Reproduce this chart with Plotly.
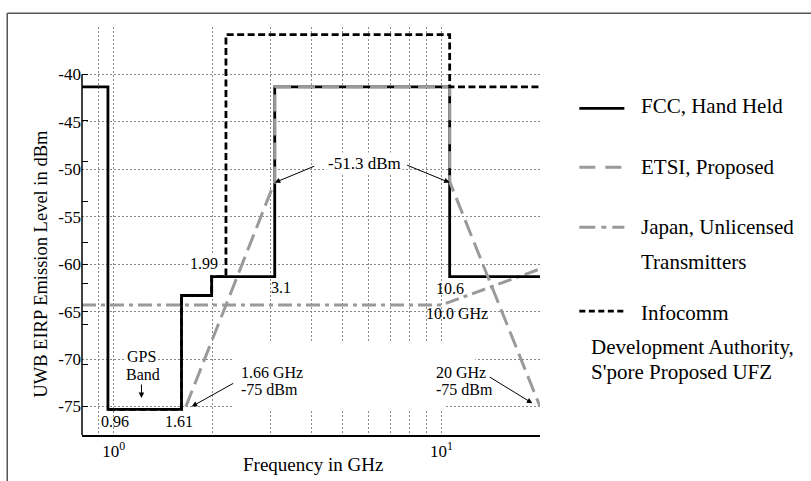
import numpy as np
import plotly.graph_objects as go

# Emission masks (frequency in GHz, EIRP level in dBm)
fcc_freq = [0.8, 0.96, 1.61, 1.99, 3.1, 10.6, 20]
fcc_level = [-41.3, -75.3, -63.3, -61.3, -41.3, -61.3, -61.3]

etsi_freq = [1.66, 3.1, 3.1, 10.6, 10.6, 20]
etsi_level = [-75.0, -51.3, -41.3, -41.3, -51.3, -75.0]

japan_freq = [0.8, 10.0, 20]
japan_level = [-64.3, -64.3, -60.5]

ida_freq = [0.96, 1.61, 1.99, 2.2, 10.6, 20]
ida_level = [-75.3, -63.3, -61.3, -35.8, -41.3, -41.3]

# Axis ticks
y_ticks = [-40, -45, -50, -55, -60, -65, -70, -75]
y_tick_text = ["-40", "-45", "-50", "-55", "-60", "-65", "-70", "-75"]
y_minor_ticks = [-40, -44.9, -49.2, -53.4, -57.7, -60, -62, -65, -66.4, -70.6, -75]
x_grid = [0.9, 1, 2, 3, 4, 5, 6, 7, 8, 9, 10, 20]
x_tick_text = ["", "10<sup>0</sup>", "", "", "", "", "", "", "", "", "10<sup>1</sup>", ""]

W, H = 811, 481
L, R = 82, 811 - 82 - 457.7
T, B = 26.5, 46
PW, PH = W - L - R, H - T - B


def px(xp):
    return (xp - L) / PW


def py(yp):
    return (H - B - yp) / PH


FONT = "Liberation Serif, Times New Roman, serif"
GRAY = "#9a9a9a"

fig = go.Figure()

fig.add_trace(go.Scatter(x=japan_freq, y=japan_level, mode="lines",
                         line=dict(color=GRAY, width=3, dash="14px,5px,4px,5px"),
                         showlegend=False))
fig.add_trace(go.Scatter(x=fcc_freq, y=fcc_level, mode="lines", line_shape="hv",
                         line=dict(color="black", width=2.8), showlegend=False))
fig.add_trace(go.Scatter(x=etsi_freq, y=etsi_level, mode="lines",
                         line=dict(color=GRAY, width=3, dash="17px,7px"),
                         showlegend=False))
fig.add_trace(go.Scatter(x=ida_freq, y=ida_level, mode="lines", line_shape="hv",
                         line=dict(color="black", width=2.8, dash="7px,3.5px"),
                         showlegend=False))

shapes = []
# white panels hiding the grid (drawn between grid and traces)
for x0, x1, y0, y1, xr in [
    (0, 1, -39.9, -35, "paper"),
    (2.3, 10.3, -68.2, -75.25, "x"),
    (10.3, 12.7, -68.2, -74.6, "x"),
]:
    shapes.append(dict(type="rect", xref=xr, yref="y", x0=x0, x1=x1, y0=y0, y1=y1,
                       fillcolor="white", line=dict(width=0), layer="between"))
# left axis line
shapes.append(dict(type="line", xref="paper", yref="y", x0=0, x1=0, y0=-78, y1=-40,
                   line=dict(color="black", width=1.5), layer="above"))
# outer frame
shapes.append(dict(type="line", xref="paper", yref="paper", x0=px(7.3), x1=px(811),
                   y0=py(12.7), y1=py(12.7), line=dict(color="#555555", width=1.5)))
shapes.append(dict(type="line", xref="paper", yref="paper", x0=px(7.3), x1=px(7.3),
                   y0=py(12.7), y1=py(481), line=dict(color="#555555", width=1.5)))

# legend samples
legend_items = [
    ("FCC, Hand Held", "black", 2.8, "solid", 108, 106),
    ("ETSI, Proposed", GRAY, 3, "16px,10px", 167, 166.7),
    ("Japan, Unlicensed", GRAY, 3, "16px,6px,5px,6px", 227, 226.7),
    ("Infocomm", "black", 2.8, "6px,3.5px", 311, 313),
]
annotations = []
for name, col, wd, dash, ly, ty in legend_items:
    shapes.append(dict(type="line", xref="paper", yref="paper", x0=px(579), x1=px(624),
                       y0=py(ly), y1=py(ly), line=dict(color=col, width=wd, dash=dash)))
    annotations.append(dict(text=name, xref="paper", yref="paper", x=px(639), y=py(ty),
                            xanchor="left", yanchor="middle", showarrow=False,
                            font=dict(size=21)))
for txt, xl, ty in [("Transmitters", 639, 261.7),
                    ("Development Authority,", 588.7, 346.7),
                    ("S'pore Proposed UFZ", 588.7, 371.7)]:
    annotations.append(dict(text=txt, xref="paper", yref="paper", x=px(xl), y=py(ty),
                            xanchor="left", yanchor="middle", showarrow=False,
                            font=dict(size=21)))

# axis titles
annotations.append(dict(text="Frequency in GHz", xref="paper", yref="paper",
                        x=px(312.5), y=py(465), xanchor="center", yanchor="middle",
                        showarrow=False, font=dict(size=19)))
annotations.append(dict(text="UWB EIRP Emission Level in dBm", xref="paper", yref="paper",
                        x=px(41), y=py(263.5), xanchor="center", yanchor="middle",
                        textangle=-90, showarrow=False, font=dict(size=18.5)))


def lbl(text, f, lvl, size=16, anchor="center", bg=None):
    d = dict(text=text, x=np.log10(f), y=lvl, xref="x", yref="y", xanchor=anchor,
             yanchor="middle", showarrow=False, font=dict(size=size), borderpad=1)
    if bg:
        d["bgcolor"] = bg
    annotations.append(d)


def arrow(f, lvl, ax, ay):
    annotations.append(dict(text="", x=np.log10(f), y=lvl, xref="x", yref="y",
                            ax=ax, ay=ay, showarrow=True, arrowhead=2, arrowsize=1.1,
                            arrowwidth=1, arrowcolor="black", standoff=0))


lbl("-51.3 dBm", 5.81, -49.4, size=17, bg="white")
arrow(3.1, -51.4, 41, -17)
arrow(10.6, -51.4, -44, -18)
lbl("1.99", 1.88, -59.9, bg="white")
lbl("3.1", 3.23, -62.45)
lbl("10.6", 10.6, -62.55)
lbl("10.0 GHz", 11.18, -65.2)
lbl("GPS", 1.215, -69.75, bg="white")
lbl("Band", 1.23, -71.65)
arrow(1.215, -74.1, 0, -15)
lbl("1.66 GHz", 2.405, -71.45, anchor="left")
lbl("-75 dBm", 2.405, -73.25, anchor="left")
arrow(1.73, -75.0, 43, -24)
lbl("20 GHz", 9.50, -71.45, anchor="left")
lbl("-75 dBm", 9.50, -73.25, anchor="left")
arrow(18.95, -74.65, -44, -27)
lbl("0.96", 1.012, -76.6)
lbl("1.61", 1.58, -76.6)

fig.update_layout(
    width=W, height=H, autosize=False,
    margin=dict(l=L, r=R, t=T, b=B, pad=0),
    paper_bgcolor="white", plot_bgcolor="white",
    font=dict(family=FONT, color="black"),
    shapes=shapes, annotations=annotations,
    showlegend=False,
    xaxis=dict(type="log", range=[np.log10(0.8), np.log10(20)],
               tickmode="array", tickvals=x_grid, ticktext=x_tick_text,
               ticks="", showgrid=True, gridcolor="#888888", griddash="2px,2px",
               gridwidth=1, showline=True, linecolor="black", linewidth=1.5,
               tickfont=dict(size=17), zeroline=False),
    yaxis=dict(range=[-78, -35], tickmode="array", tickvals=y_ticks,
               ticktext=y_tick_text, ticks="", showgrid=True, gridcolor="#888888",
               griddash="2px,2px", gridwidth=1, showline=False, zeroline=False,
               tickfont=dict(size=17),
               minor=dict(tickmode="array", tickvals=y_minor_ticks, ticks="inside",
                          ticklen=6, tickwidth=1.3, tickcolor="black", showgrid=False)),
)

fig.write_html("out.html", config={"displayModeBar": False})
